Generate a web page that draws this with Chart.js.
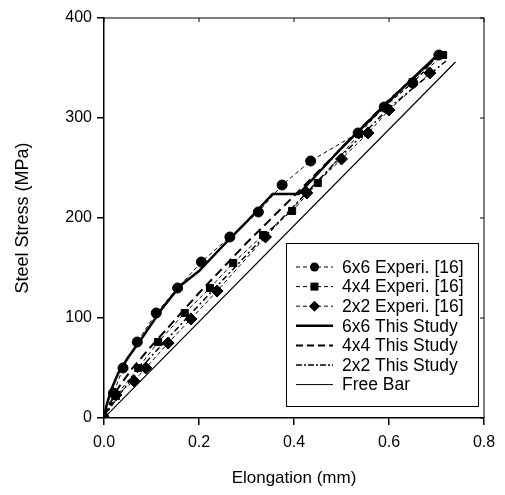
<!DOCTYPE html>
<html>
<head>
<meta charset="utf-8">
<script src="https://cdn.jsdelivr.net/npm/chart.js@4.4.1/dist/chart.umd.min.js"></script>
<style>
html,body{margin:0;padding:0;background:#fff;}
#wrap{width:505px;height:495px;}
</style>
</head>
<body>
<div id="wrap"><canvas id="c" width="505" height="495"></canvas></div>
<script>
// ---- data ----
const xTicks = [0.0, 0.2, 0.4, 0.6, 0.8];
const yTicks = [0, 100, 200, 300, 400];

const exp6x6X = [0, 0.02, 0.04, 0.07, 0.11, 0.155, 0.205, 0.265, 0.325, 0.375, 0.435, 0.535, 0.59, 0.65, 0.705];
const exp6x6Y = [0, 25, 50, 76, 105, 130, 156, 181, 206, 233, 257, 285, 311, 335, 363];

const exp4x4X = [0, 0.025, 0.072, 0.114, 0.17, 0.223, 0.272, 0.335, 0.396, 0.45, 0.537, 0.59, 0.65, 0.714];
const exp4x4Y = [0, 22, 50, 76, 105, 130, 155, 183, 207, 235, 284, 311, 336, 363];

const exp2x2X = [0, 0.025, 0.063, 0.088, 0.135, 0.183, 0.238, 0.34, 0.427, 0.5, 0.556, 0.6, 0.686];
const exp2x2Y = [0, 23, 37, 50, 75, 99, 127, 181, 225, 259, 285, 308, 345];

const st6x6X = [0, 0.005, 0.015, 0.03, 0.05, 0.08, 0.12, 0.16, 0.2, 0.25, 0.3, 0.355, 0.41, 0.5, 0.6, 0.7];
const st6x6Y = [0, 12, 28, 45, 60, 80, 108, 132, 147, 172, 196, 224, 224, 270, 317, 362];

const st4x4X = [0, 0.01, 0.03, 0.06, 0.1, 0.2, 0.3, 0.4, 0.5, 0.6, 0.7];
const st4x4Y = [0, 12, 30, 50, 72, 125, 175, 222, 270, 318, 360];

const st2x2X = [0, 0.01, 0.03, 0.06, 0.1, 0.2, 0.3, 0.4, 0.5, 0.6, 0.72];
const st2x2Y = [0, 8, 22, 40, 62, 113, 163, 212, 262, 310, 357];

const freeX = [0, 0.74];
const freeY = [0, 356];

const labels = ["6x6 Experi. [16]", "4x4 Experi. [16]", "2x2 Experi. [16]",
                "6x6 This Study", "4x4 This Study", "2x2 This Study", "Free Bar"];

function pts(xs, ys){ return xs.map((x,i)=>({x:x, y:ys[i]})); }

const FONT = "'Liberation Sans', Arial, sans-serif";

const datasets = [
  {label: labels[0], data: pts(exp6x6X, exp6x6Y), borderColor:'#000', backgroundColor:'#000', borderWidth:1, borderDash:[4,3],
   pointStyle:'circle', pointRadius:5, showLine:true},
  {label: labels[1], data: pts(exp4x4X, exp4x4Y), borderColor:'#000', backgroundColor:'#000', borderWidth:1, borderDash:[4,3],
   pointStyle:'rect', pointRadius:5, showLine:true},
  {label: labels[2], data: pts(exp2x2X, exp2x2Y), borderColor:'#000', backgroundColor:'#000', borderWidth:1, borderDash:[4,3],
   pointStyle:'rectRot', pointRadius:6, showLine:true},
  {label: labels[3], data: pts(st6x6X, st6x6Y), borderColor:'#000', borderWidth:2.5, pointRadius:0, showLine:true},
  {label: labels[4], data: pts(st4x4X, st4x4Y), borderColor:'#000', borderWidth:2, borderDash:[9,5], pointRadius:0, showLine:true},
  {label: labels[5], data: pts(st2x2X, st2x2Y), borderColor:'#000', borderWidth:1.5, borderDash:[6,3,2,3], pointRadius:0, showLine:true},
  {label: labels[6], data: pts(freeX, freeY), borderColor:'#000', borderWidth:1.2, pointRadius:0, showLine:true}
];

const legendStyles = [
  {w:1, dash:[4,3], marker:'circle'},
  {w:1, dash:[4,3], marker:'rect'},
  {w:1, dash:[4,3], marker:'rectRot'},
  {w:2.5, dash:[], marker:null},
  {w:2, dash:[7,4], marker:null},
  {w:1.5, dash:[6,2,2,2], marker:null},
  {w:1, dash:[], marker:null}
];

const framePlugin = {
  id:'frame',
  afterDraw(chart){
    const ctx = chart.ctx, a = chart.chartArea;
    const xs = chart.scales.x, ys = chart.scales.y;
    ctx.save();
    ctx.strokeStyle = '#000';
    ctx.setLineDash([]);
    ctx.lineWidth = 1;
    ctx.beginPath();
    ctx.moveTo(a.left, a.top); ctx.lineTo(a.right, a.top); ctx.lineTo(a.right, a.bottom);
    ctx.stroke();
    // inward ticks on top/right
    ctx.beginPath();
    xTicks.forEach(v=>{ const p = xs.getPixelForValue(v); ctx.moveTo(p, a.top); ctx.lineTo(p, a.top+4); });
    yTicks.forEach(v=>{ const p = ys.getPixelForValue(v); ctx.moveTo(a.right, p); ctx.lineTo(a.right-4, p); });
    ctx.stroke();

    // legend
    const L = a.left + 182, T = a.top + 225, W = 192, H = 163;
    ctx.fillStyle = '#fff';
    ctx.fillRect(L, T, W, H);
    ctx.lineWidth = 1;
    ctx.strokeRect(L+0.5, T+0.5, W, H);
    ctx.font = '17.5px ' + FONT;
    ctx.textBaseline = 'middle';
    ctx.textAlign = 'left';
    ctx.fillStyle = '#000';
    chart.data.datasets.forEach((ds, i)=>{
      const y = T + 24 + i*19.6;
      const st = legendStyles[i];
      ctx.lineWidth = st.w;
      ctx.setLineDash(st.dash);
      ctx.beginPath(); ctx.moveTo(L+10, y); ctx.lineTo(L+47, y); ctx.stroke();
      ctx.setLineDash([]);
      if (st.marker){
        const cx = L+28.5;
        ctx.beginPath();
        if (st.marker==='circle'){ ctx.arc(cx, y, 4.5, 0, Math.PI*2); }
        else if (st.marker==='rect'){ ctx.rect(cx-4, y-4, 8, 8); }
        else { ctx.moveTo(cx, y-5.5); ctx.lineTo(cx+5.5, y); ctx.lineTo(cx, y+5.5); ctx.lineTo(cx-5.5, y); ctx.closePath(); }
        ctx.fill();
      }
      ctx.fillText(ds.label, L+56, y+1);
    });
    ctx.restore();
  }
};

new Chart(document.getElementById('c'), {
  type:'scatter',
  data:{datasets},
  plugins:[framePlugin],
  options:{
    responsive:false,
    animation:false,
    layout:{padding:{top:18, right:21, left:0, bottom:0}},
    plugins:{legend:{display:false}, tooltip:{enabled:false}},
    scales:{
      x:{
        type:'linear', min:0, max:0.8,
        afterBuildTicks(s){ s.ticks = xTicks.map(v=>({value:v})); },
        afterFit(s){ s.height = 77; },
        border:{display:true, color:'#000', width:1.5},
        grid:{display:true, drawOnChartArea:false, drawTicks:true, tickLength:7, color:'#000', lineWidth:1.5},
        ticks:{color:'#000', font:{family:FONT, size:16}, padding:8, maxRotation:0,
               callback:(v)=>Number(v).toFixed(1)},
        title:{display:true, text:'Elongation (mm)', color:'#000', font:{family:FONT, size:17}, padding:{top:4, bottom:6}}
      },
      y:{
        type:'linear', min:0, max:400,
        afterBuildTicks(s){ s.ticks = yTicks.map(v=>({value:v})); },
        afterFit(s){ s.width = 104; },
        border:{display:true, color:'#000', width:1.5},
        grid:{display:true, drawOnChartArea:false, drawTicks:true, tickLength:7, color:'#000', lineWidth:1.5},
        ticks:{color:'#000', font:{family:FONT, size:16}, padding:5},
        title:{display:true, text:'Steel Stress (MPa)', color:'#000', font:{family:FONT, size:18}, padding:{top:12, bottom:0}}
      }
    }
  }
});
</script>
</body>
</html>
